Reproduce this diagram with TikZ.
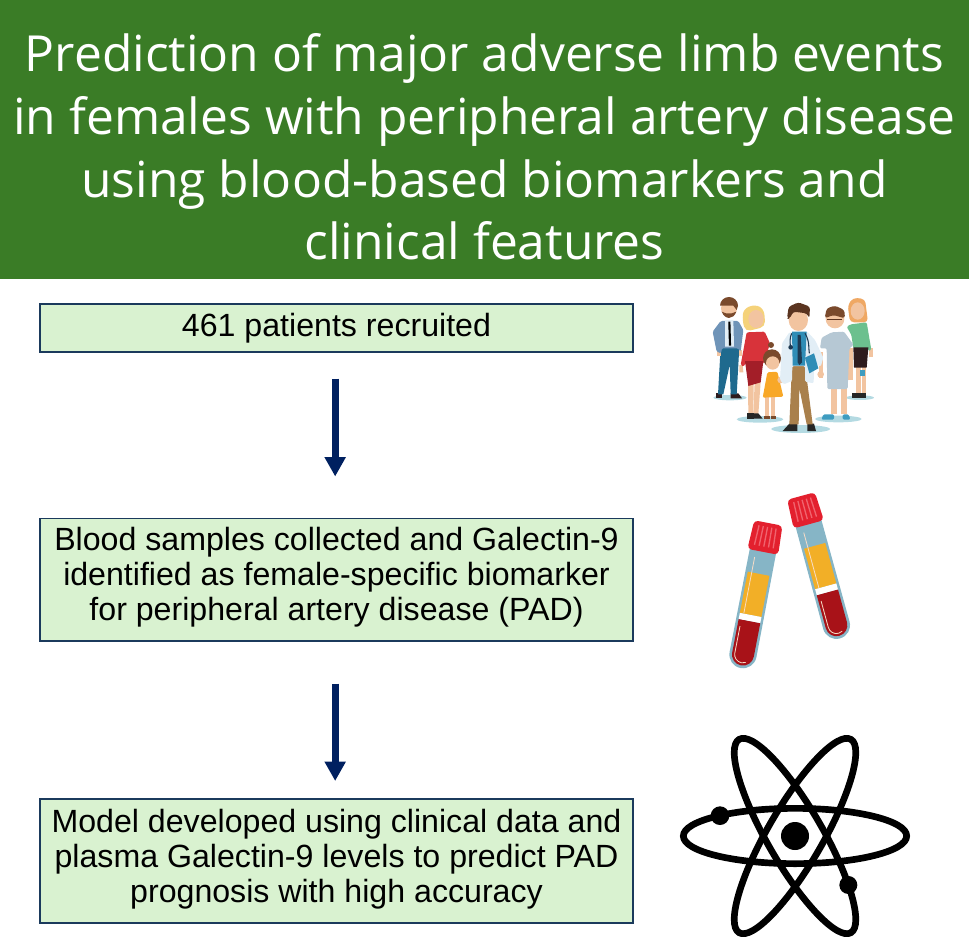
\documentclass[tikz,border=0pt]{standalone}
\usepackage{fontspec}
\setmainfont{Liberation Sans}
\newfontfamily\titlefont{Open Sans}
\definecolor{bandgreen}{HTML}{3A7C26}
\definecolor{boxgreen}{HTML}{D9F2D0}
\definecolor{boxedge}{HTML}{1B3A5C}
\definecolor{arrownavy}{HTML}{002060}
\definecolor{skin}{HTML}{F2C4A0}
\definecolor{floorblue}{HTML}{B4DAE2}
\definecolor{tubeblue}{HTML}{86B5C6}
\definecolor{plasma}{HTML}{F2AF27}
\definecolor{bloodred}{HTML}{A81218}
\definecolor{capred}{HTML}{E3202E}
\definecolor{capline}{HTML}{F0636E}
\definecolor{jacketblue}{HTML}{6F94B8}
\definecolor{jeansblue}{HTML}{1F6A8E}
\definecolor{hairbrown}{HTML}{7A4A2C}
\definecolor{hairdark}{HTML}{5A3420}
\definecolor{dressred}{HTML}{D8333A}
\definecolor{skirtred}{HTML}{A31E28}
\definecolor{hairblond}{HTML}{F5D27A}
\definecolor{dressorange}{HTML}{F8A828}
\definecolor{hairorange}{HTML}{EFA864}
\definecolor{topgreen}{HTML}{6CC08E}
\definecolor{skirtdark}{HTML}{2E1C1E}
\definecolor{gowngrey}{HTML}{B6C8D4}
\definecolor{shoeblue}{HTML}{3E9CC0}
\definecolor{coatwhite}{HTML}{E2EEF6}
\definecolor{shirtblue}{HTML}{2F8DB6}
\definecolor{tiedark}{HTML}{1E3A52}
\definecolor{pantstan}{HTML}{A9804C}
\tikzset{
  stepbox/.style={draw=boxedge, line width=1pt, fill=boxgreen, minimum width=444.75pt, inner sep=0pt, align=center, font=\fontsize{24.1}{26.2}\selectfont},
  flowarrow/.style={-{Triangle[width=15pt,length=14.5pt]}, draw=arrownavy, line width=5.25pt, shorten <=19.5pt},
}
\usetikzlibrary{arrows.meta}
% lifts the lines of a box a little
\newcommand{\lifttext}{\rule[-8pt]{0pt}{8pt}}
% one tube, origin at the middle of the top of its cap
\newcommand{\testtube}[3]{%
  \begin{scope}[shift={(#1,#2)}, rotate=#3]
    \fill[tubeblue] (-40,80) -- (40,80) -- (41,402) arc[start angle=0, end angle=180, radius=41] -- cycle;
    \fill[plasma] (-33,155) rectangle (33,281);
    \fill[white] (-33,281) rectangle (33,300);
    \fill[bloodred] (-33,300) -- (33,300) -- (33,402) arc[start angle=0, end angle=180, radius=33] -- cycle;
    \fill[capred, rounded corners=3pt] (-43,0) -- (43,0) -- (47,88) -- (-47,88) -- cycle;
    \foreach \s in {-26,-13,0,13,26}
      \draw[capline, line width=1pt] (\s,12) -- (1.1*\s,72);
    \draw[skin!60!white, line width=.6pt] (-21,108) -- (-21,280);
    \draw[skin!60!white, line width=.6pt] (-25,320) -- (-25,402) arc[start angle=180, end angle=60, radius=25];
  \end{scope}}
\begin{document}
\begin{tikzpicture}[x=0.75pt,y=0.75pt,yscale=-1,xscale=1]
    \useasboundingbox (0,0) rectangle (969,944);

    % Title band
    \fill[bandgreen] (0,0) rectangle (969,279);
    \node (titletext) [text=white, inner sep=0pt, align=center, font=\titlefont\fontsize{37.3}{47}\selectfont] at (484.5,147) {Prediction of major adverse limb events\\in females with peripheral artery disease\\using blood-based biomarkers and\\clinical features};

    % Boxes
    \node (patientsbox) [stepbox, minimum height=36pt] at (336.5,328) {461 patients recruited};
    \node (samplesbox) [stepbox, minimum height=92pt] at (336.5,579.5) {Blood samples collected and Galectin-9\\identified as female-specific biomarker\\for peripheral artery disease (PAD)\lifttext};
    \node (modelbox) [stepbox, minimum height=93pt] at (336.5,861) {Model developed using clinical data and\\plasma Galectin-9 levels to predict PAD\\prognosis with high accuracy\lifttext};

    % Arrows
    \draw [flowarrow, shorten >=30.75pt] ([xshift=-1pt]patientsbox.south) -- ([xshift=-1pt]samplesbox.north);
    \draw [flowarrow, shorten >=13pt, shorten <=31.5pt] ([xshift=-1pt]samplesbox.south) -- ([xshift=-1pt]modelbox.north);

    % People, in the units of a 3x crop
    \begin{scope}[shift={(690,285)}, x=0.25pt, y=0.25pt]
      \foreach \a/\b/\c/\d in {120/338/50/8, 210/403/70/10, 332/432/88/12, 445/402/70/10, 510/338/42/7}
        \fill[floorblue] (\a,\b) ellipse [x radius=\c, y radius=\d];
      % man
      \fill[skirtdark] (78,325) rectangle (97,340);
      \fill[skirtdark] (122,325) -- (145,325) -- (156,340) -- (122,340) -- cycle;
      \fill[jeansblue] (92,185) -- (148,185) -- (140,328) -- (122,328) -- (119,240) -- (100,328) -- (84,328) -- cycle;
      \fill[skin] (82,195) rectangle (94,212);
      \fill[skin] (146,195) rectangle (156,214);
      \fill[jacketblue, rounded corners=1pt] (92,108) -- (145,108) -- (160,135) -- (152,200) -- (144,190) -- (95,190) -- (94,205) -- (80,200) -- (68,140) -- cycle;
      \fill[coatwhite] (105,105) -- (130,105) -- (132,185) -- (105,185) -- cycle;
      \draw[black, line width=1.6pt] (118,110) -- (120,182);
      \fill[skin] (117,70) circle [radius=24];
      \fill[hairbrown] (90,62) arc [start angle=180, end angle=360, x radius=27, y radius=26] -- (140,75) -- (130,62) -- (103,62) -- cycle;
      \fill[hairbrown] (95,80) .. controls (105,105) and (130,105) .. (139,80) -- (125,85) -- (108,85) -- cycle;
      % woman in red
      \fill[skin] (174,295) -- (191,295) -- (190,388) -- (175,388) -- cycle;
      \fill[skin] (194,290) -- (212,290) -- (205,388) -- (190,388) -- cycle;
      \fill[black!85] (170,385) rectangle (192,401);
      \fill[black!85] (192,385) -- (205,385) -- (218,401) -- (192,401) -- cycle;
      \fill[hairblond, rounded corners=4pt] (157,105) -- (160,72) -- (195,58) -- (222,72) -- (226,125) -- (166,140) -- cycle;
      \fill[skin] (198,102) ellipse [x radius=23, y radius=27];
      \fill[skin] (148,240) -- (158,240) -- (160,262) -- (148,262) -- cycle;
      \fill[dressred, rounded corners=1pt] (170,142) -- (224,140) -- (240,175) -- (222,235) -- (165,235) -- (162,245) -- (152,240) -- cycle;
      \fill[skirtred] (165,228) -- (220,228) -- (212,292) -- (175,303) -- cycle;
      % girl
      \fill[skin] (226,335) rectangle (238,393);
      \fill[skin] (244,335) rectangle (256,393);
      \fill[hairbrown] (221,392) rectangle (240,402);
      \fill[hairbrown] (242,392) rectangle (258,402);
      \fill[hairbrown] (243,180) circle [radius=9];
      \fill[hairbrown] (246,220) circle [radius=27];
      \fill[skin] (248,234) circle [radius=20];
      \fill[dressorange, rounded corners=1pt] (232,262) -- (262,260) -- (280,335) -- (218,338) -- cycle;
      % woman in green
      \fill[skin] (497,245) rectangle (512,325);
      \fill[skin] (515,245) rectangle (527,325);
      \fill[shoeblue] (510,254) rectangle (526,272);
      \fill[black!85] (486,324) rectangle (510,340);
      \fill[black!85] (510,324) rectangle (527,340);
      \fill[hairorange, rounded corners=3pt] (473,60) -- (490,38) -- (525,42) -- (534,112) -- (480,112) -- cycle;
      \fill[skin] (503,78) ellipse [x radius=21, y radius=26];
      \fill[skin] (537,190) rectangle (548,215);
      \fill[topgreen, rounded corners=1pt] (482,118) -- (530,112) -- (544,195) -- (535,198) -- (533,190) -- (490,190) -- (484,150) -- (470,125) -- cycle;
      \fill[skirtdark] (490,187) -- (535,187) -- (530,248) -- (492,248) -- cycle;
      % patient
      \fill[skin] (424,305) rectangle (441,388);
      \fill[skin] (454,305) rectangle (471,388);
      \fill[shoeblue, rounded corners=1pt] (394,404) -- (400,388) -- (432,388) -- (432,404) -- cycle;
      \fill[shoeblue, rounded corners=1pt] (458,404) -- (458,388) -- (476,388) -- (481,404) -- cycle;
      \fill[skin] (386,200) rectangle (400,278);
      \fill[skin] (475,190) rectangle (490,284);
      \fill[skin] (435,102) circle [radius=28];
      \fill[hairbrown, rounded corners=2pt] (404,100) -- (410,70) -- (435,62) -- (463,75) -- (465,100) -- (430,90) -- cycle;
      \draw[hairdark, line width=.8pt] (412,103) -- (456,103);
      \fill[gowngrey, rounded corners=1pt] (425,142) -- (462,140) -- (491,180) -- (478,190) -- (473,312) -- (412,312) -- (410,190) -- (390,190) -- (395,158) -- cycle;
      % doctor
      \fill[black!85] (278,438) -- (298,416) -- (322,416) -- (322,438) -- cycle;
      \fill[black!85] (352,416) -- (372,416) -- (378,438) -- (352,438) -- cycle;
      \fill[pantstan] (306,240) -- (345,240) -- (368,418) -- (350,418) -- (328,310) -- (326,418) -- (298,418) -- cycle;
      \fill[skin] (272,285) circle [radius=10];
      \fill[skin] (392,268) circle [radius=10];
      \fill[coatwhite, rounded corners=1pt] (298,142) -- (352,140) -- (375,165) -- (400,218) -- (392,245) -- (372,235) -- (371,295) -- (345,290) -- (345,243) -- (307,243) -- (306,288) -- (281,298) -- (270,285) -- (276,175) -- cycle;
      \fill[shirtblue] (306,140) -- (350,140) -- (345,242) -- (308,242) -- cycle;
      \fill[tiedark] (323,150) -- (332,150) -- (336,232) -- (328,240) -- (323,232) -- cycle;
      \fill[skin] (325,105) ellipse [x radius=29, y radius=33];
      \fill[hairdark, rounded corners=2pt] (291,100) -- (296,65) -- (325,52) -- (360,65) -- (358,100) -- (350,85) -- (310,80) -- (298,102) -- cycle;
      \draw[tiedark, line width=.8pt] (305,145) .. controls (298,160) and (300,175) .. (302,187);
      \draw[tiedark, line width=.8pt] (345,145) .. controls (360,170) and (355,190) .. (358,205);
      \fill[tiedark] (302,187) circle [radius=7];
      \fill[shirtblue] (345,218) -- (372,205) -- (385,250) -- (358,265) -- cycle;
    \end{scope}

    % Tubes, in the units of a 3x crop
    \begin{scope}[shift={(700,480)}, x=0.25pt, y=0.25pt]
      \testtube{205}{129}{10.9}
      \testtube{303}{48}{-15.3}
    \end{scope}

    % Atom, in the units of a 3x crop
    \begin{scope}[shift={(670,725)}, x=0.25pt, y=0.25pt]
      \foreach \r in {0,60,120}
        \draw[black, line width=5pt, rotate around={\r:(375,333)}] (375,333) ellipse [x radius=335, y radius=83];
      \fill[black] (375,333) circle [radius=42];
      \fill[black] (150,272) circle [radius=28];
      \fill[black] (535,480) circle [radius=27];
    \end{scope}
\end{tikzpicture}
\end{document}
